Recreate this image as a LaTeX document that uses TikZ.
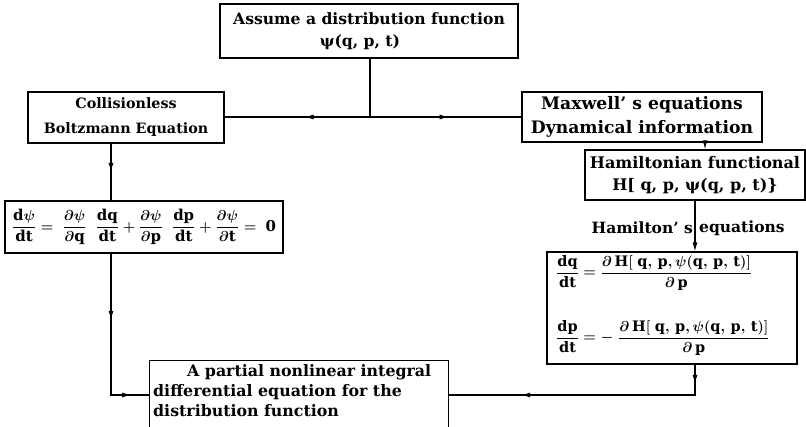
\documentclass[tikz,border=0pt]{standalone}
\usepackage{amsmath}
\usepackage{fontspec}
\setmainfont{DejaVu Serif}
\usetikzlibrary{arrows.meta,decorations.markings}
\begin{document}
\begin{tikzpicture}[x=1pt,y=-1pt,
  >={Latex[length=9pt,width=5pt]},
  box/.style={draw, line width=1.3pt, inner sep=0pt, align=center},
  bt/.style 2 args={font=\bfseries\fontsize{#1}{#2}\selectfont},
  eq/.style={inner sep=0pt, font=\boldmath\fontsize{#1}{18}\selectfont},
  conn/.style={line width=1.1pt},
  marr/.style={postaction={decorate, decoration={markings, mark=at position #1 with {\arrow{>}}}}}
  ]
\useasboundingbox (0,0) rectangle (806,427);
% boxes
\node[box, bt={15.6}{22}, minimum width=298pt, minimum height=54pt] (top) at (369,31)
  {Assume a distribution function\\\hspace*{-18pt}ψ(q, p, t)};
\node[box, bt={14.3}{25}, minimum width=196pt, minimum height=51pt] (left) at (126,117.5)
  {Collisionless\\Boltzmann Equation};
\node[box, bt={17.2}{24}, minimum width=240pt, minimum height=50pt] (right) at (642,117)
  {Maxwell' s equations\\Dynamical information};
\node[box, bt={16}{22}, minimum width=220pt, minimum height=50pt] (ham) at (695,175)
  {Hamiltonian functional\\H[ q, p, ψ(q, p, t)\}};
\node[box, minimum width=278pt, minimum height=52pt] (lefteq) at (144,227) {};
\node[box, minimum width=250pt, minimum height=112pt] (righteq) at (672,308) {};
\node[box, anchor=north west, minimum width=299pt, minimum height=80pt] (bot) at (149,360) {};
% equations
\node[eq=15] (eqL) at (lefteq.center)
  {$\dfrac{\mathrm{d}\psi}{\mathrm{dt}}= \;\dfrac{\partial\psi}{\partial \mathrm{q}}\;\;\dfrac{\mathrm{dq}}{\mathrm{dt}}+\dfrac{\partial\psi}{\partial \mathrm{p}}\;\;\dfrac{\mathrm{dp}}{\mathrm{dt}}+\dfrac{\partial\psi}{\partial \mathrm{t}}= \;\text{\bfseries 0}$};
\node[eq=14.5, anchor=west] (eqR1) at (556,273)
  {$\dfrac{\mathrm{dq}}{\mathrm{dt}}=\dfrac{\partial\,\mathrm{H}[\;\mathrm{q,\,p,\,}\psi(\mathrm{q,\,p,\,t})]}{\partial\,\mathrm{p}}$};
\node[eq=14.5, anchor=west] (eqR2) at (556,338)
  {$\dfrac{\mathrm{dp}}{\mathrm{dt}}=-\;\dfrac{\partial\,\mathrm{H}[\;\mathrm{q,\,p,\,}\psi(\mathrm{q,\,p,\,t})]}{\partial\,\mathrm{p}}$};
% bottom text
\node[bt={15.8}{20}, anchor=north west, align=left, inner sep=0pt] (btxt) at (153,364)
  {\hspace*{34pt}A partial nonlinear integral\\differential equation for the\\distribution function};
% label
\node[bt={15.5}{15}, anchor=east, inner sep=0pt] (hl1) at (693,228) {Hamilton' s};
\node[bt={15.5}{15}, anchor=west, inner sep=0pt] (hl2) at (699,228) {equations};
% connectors
\coordinate (j) at (370,117);
\coordinate (lx) at (111,0);
\coordinate (hx) at (695,0);
\coordinate (by) at (0,395);
\draw[conn] (top.south -| j) -- (j);
\draw[conn, marr=0.45] (j) -- (j -| left.east);
\draw[conn, marr=0.52] (j) -- (j -| right.west);
\draw[conn, marr=0.5] (left.south -| lx) -- (lefteq.north -| lx);
\draw[conn, ->] ([xshift=10pt]ham.north |- right.south) -- ([xshift=10pt]ham.north);
\draw[conn, ->] (ham.south) -- (ham.south |- righteq.north);
\draw[conn, marr=0.37, marr=0.9] (lefteq.south -| lx) -- (lx |- by) -- (bot.west |- by);
\draw[conn, marr=0.07, marr=0.74] (righteq.south -| hx) -- (hx |- by) -- (bot.east |- by);
\end{tikzpicture}
\end{document}
